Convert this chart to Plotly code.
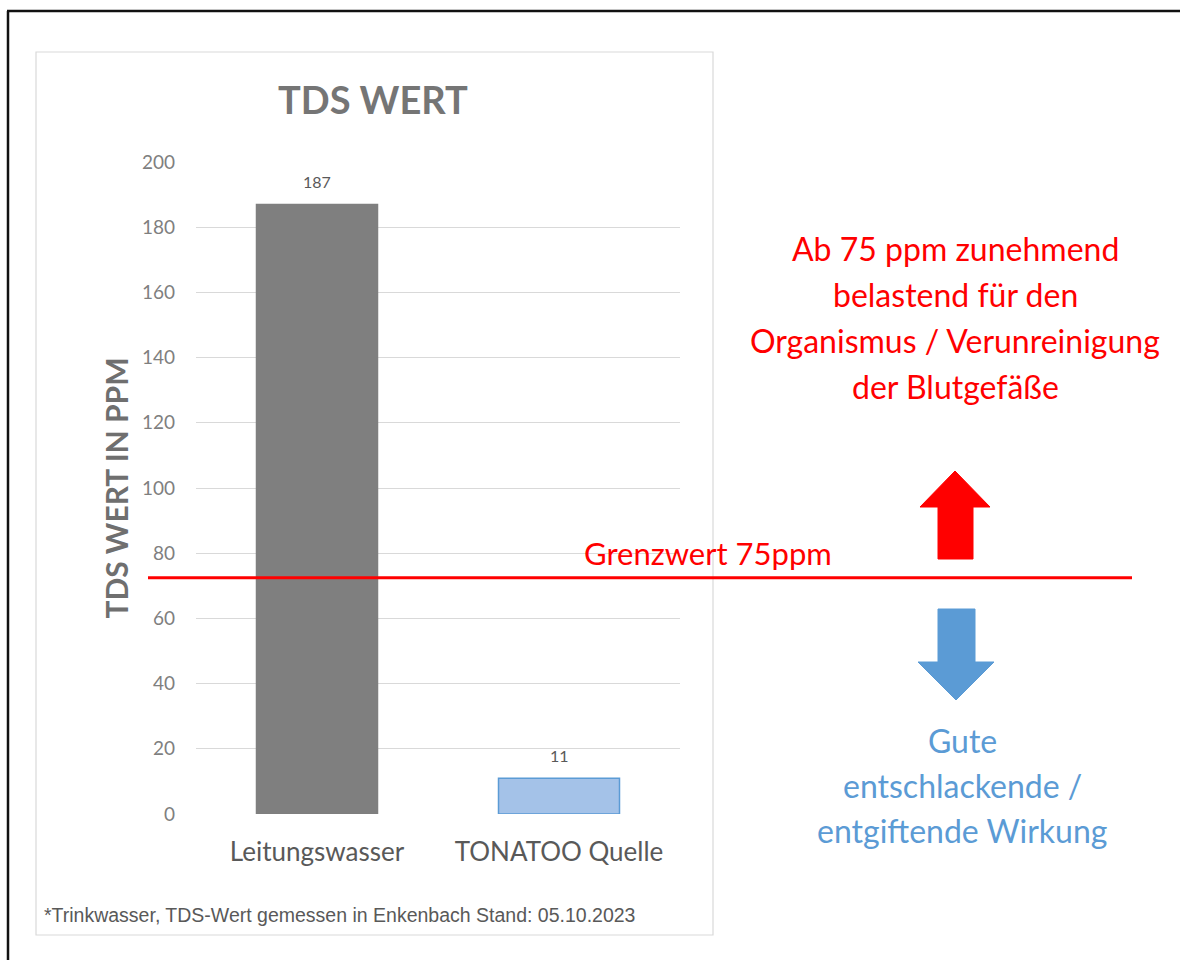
import plotly.graph_objects as go

categories = ["Leitungswasser", "TONATOO Quelle"]
values = [187, 11]
limit_value = 72.5
y_ticks = [0, 20, 40, 60, 80, 100, 120, 140, 160, 180, 200]
red_lines = ["Ab 75 ppm zunehmend", "belastend für den",
             "Organismus / Verunreinigung", "der Blutgefäße"]
blue_lines = ["Gute", "entschlackende /", "entgiftende Wirkung"]

W, H = 1180, 960
L, R, T, B = 196, 680, 162, 814

def px(x):
    return (x - L) / (R - L)

def py(y):
    return (B - y) / (B - T)

fig = go.Figure()
fig.add_trace(go.Bar(
    x=categories, y=values, width=0.5,
    marker=dict(color=["#7f7f7f", "#a4c2e8"],
                line=dict(color=["#7f7f7f", "#5b9bd5"], width=1.5)),
    showlegend=False, hoverinfo="x+y",
))

shapes = []
# outer black border (top and left)
shapes.append(dict(type="line", xref="paper", yref="paper",
                   x0=px(7), x1=px(1180), y0=py(11), y1=py(11),
                   line=dict(color="#111111", width=2.5), layer="below"))
shapes.append(dict(type="line", xref="paper", yref="paper",
                   x0=px(8), x1=px(8), y0=py(11), y1=py(960),
                   line=dict(color="#111111", width=2.5), layer="below"))
# inner chart frame
shapes.append(dict(type="rect", xref="paper", yref="paper",
                   x0=px(36), x1=px(713), y0=py(52), y1=py(935),
                   line=dict(color="#d9d9d9", width=1.2), layer="below"))
# limit line
shapes.append(dict(type="line", xref="paper", yref="y",
                   x0=px(148), x1=px(1132), y0=limit_value, y1=limit_value,
                   line=dict(color="#ff0000", width=3)))

def path(points):
    return "M " + " L ".join(f"{px(a)},{py(b)}" for a, b in points) + " Z"

# red up arrow
shapes.append(dict(type="path", xref="paper", yref="paper",
                   path=path([(938, 559), (938, 507), (920, 507), (955, 471),
                              (990, 507), (973, 507), (973, 559)]),
                   fillcolor="#ff0000", line=dict(color="#ff0000", width=1)))
# blue down arrow
shapes.append(dict(type="path", xref="paper", yref="paper",
                   path=path([(938, 609), (975, 609), (975, 662), (994, 662),
                              (956, 700), (918, 662), (938, 662)]),
                   fillcolor="#5b9bd5", line=dict(color="#5b9bd5", width=1)))

def note(text, x, y, size, color, family="Lato", xanchor="center"):
    return dict(text=text, xref="paper", yref="paper", x=px(x), y=py(y),
                xanchor=xanchor, yanchor="middle", showarrow=False,
                font=dict(family=family, size=size, color=color))

annotations = [
    note("<b>TDS WERT</b>", 373, 99, 38, "#757575"),
    note("Grenzwert 75ppm", 708, 553, 31, "#ff0000"),
    note("*Trinkwasser, TDS-Wert gemessen in Enkenbach Stand: 05.10.2023",
         42, 915, 19.5, "#595959", family="Liberation Sans", xanchor="left"),
]
for i, t in enumerate(red_lines):
    annotations.append(note(t, 955, 248 + 46 * i, 32, "#ff0000"))
for i, t in enumerate(blue_lines):
    annotations.append(note(t, 962, 740 + 45 * i, 32, "#5b9bd5"))
# data labels
for c, v in zip(categories, values):
    annotations.append(dict(text=str(v), x=c, y=v, xref="x", yref="y",
                            yanchor="middle", yshift=23, showarrow=False,
                            font=dict(family="Lato", size=16, color="#595959")))

fig.update_layout(
    width=W, height=H,
    margin=dict(l=L, r=W - R, t=T, b=H - B),
    paper_bgcolor="white", plot_bgcolor="white",
    shapes=shapes, annotations=annotations,
    xaxis=dict(showgrid=False, showline=False, ticks="", ticklabelstandoff=20,
               tickfont=dict(family="Lato", size=26, color="#595959")),
    yaxis=dict(range=[0, 200], tickvals=y_ticks, showgrid=True, gridcolor="#d9d9d9",
               gridwidth=1, zeroline=False, showline=False, ticks="", ticklabelstandoff=20,
               tickfont=dict(family="Lato", size=19, color="#7f7f7f"),
               title=dict(text="<b>TDS WERT IN PPM</b>", standoff=4,
                          font=dict(family="Lato", size=30, color="#6f6f6f"))),
)

fig.write_html("out.html", config={"displayModeBar": False},
               post_script="document.body.style.margin='0px';document.body.style.overflow='hidden';")
